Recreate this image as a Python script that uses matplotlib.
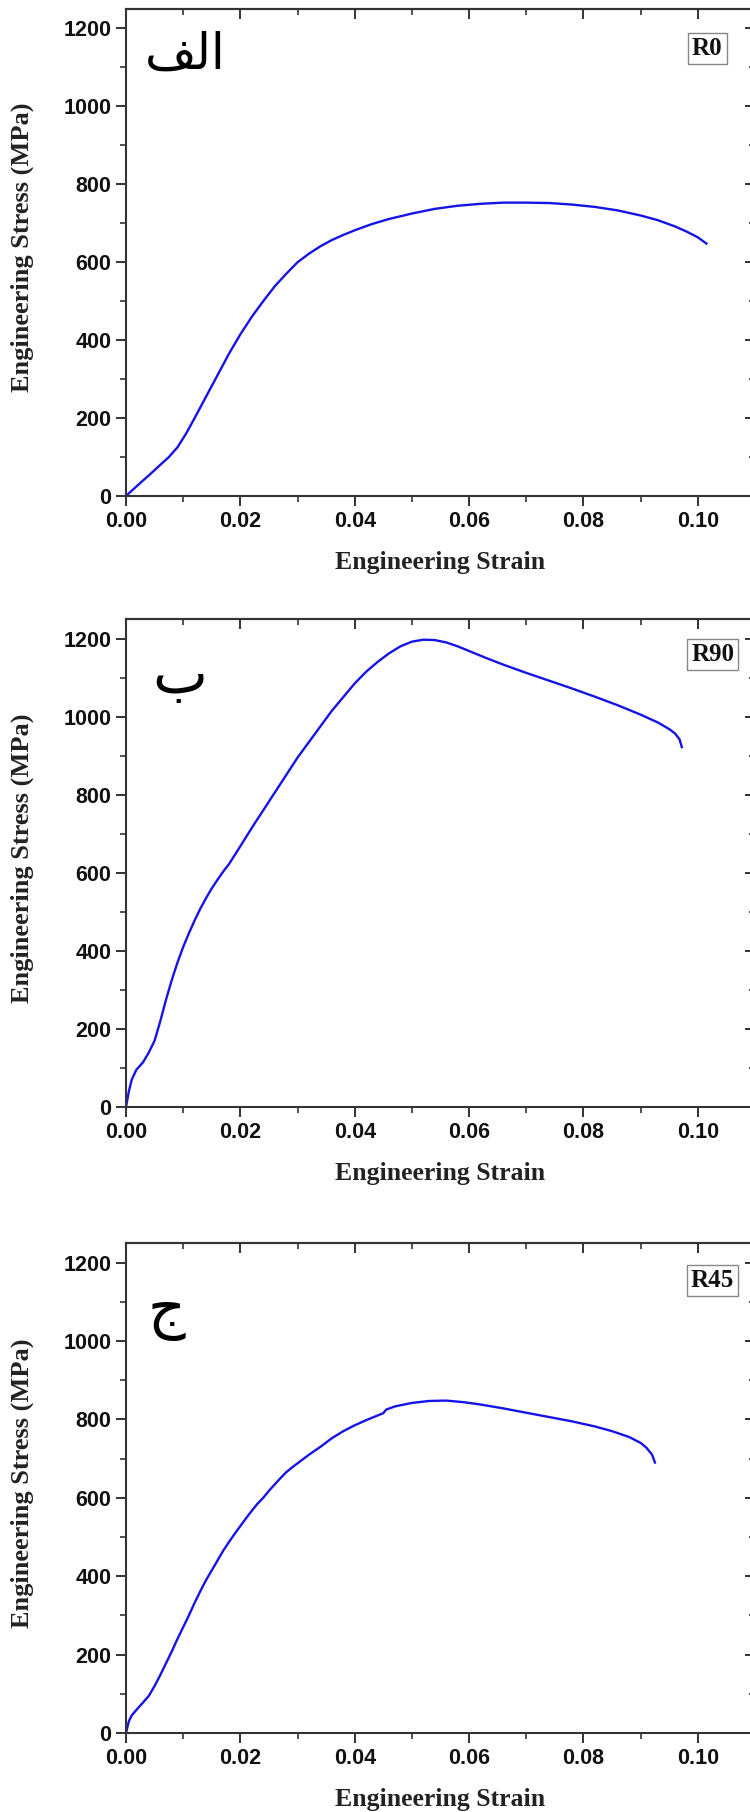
import matplotlib
matplotlib.use("Agg")
import matplotlib.pyplot as plt
from matplotlib.ticker import MultipleLocator

# strain / stress
r0_strain = [0.0, 0.002, 0.004, 0.006, 0.0075, 0.009, 0.0105, 0.012, 0.014, 0.016,
             0.018, 0.020, 0.022, 0.024, 0.026, 0.028, 0.030, 0.032, 0.034, 0.036,
             0.038, 0.040, 0.043, 0.046, 0.050, 0.054, 0.058, 0.062, 0.066, 0.070,
             0.074, 0.078, 0.082, 0.086, 0.090, 0.093, 0.096, 0.098, 0.100, 0.1015]
r0_stress = [0, 27, 53, 80, 100, 125, 160, 200, 255, 310,
             365, 415, 460, 500, 538, 570, 600, 622, 641, 657,
             670, 682, 698, 711, 725, 737, 745, 750, 753, 753,
             752, 748, 742, 733, 720, 708, 692, 679, 664, 648]

r90_strain = [0.0, 0.0005, 0.001, 0.0018, 0.003, 0.004, 0.005, 0.006, 0.007, 0.008,
              0.009, 0.010, 0.011, 0.012, 0.013, 0.014, 0.015, 0.016, 0.017, 0.018,
              0.019, 0.020, 0.022, 0.024, 0.026, 0.028, 0.030, 0.032, 0.034, 0.036,
              0.038, 0.040, 0.042, 0.044, 0.046, 0.048, 0.050, 0.052, 0.054, 0.056,
              0.058, 0.060, 0.063, 0.066, 0.070, 0.074, 0.078, 0.082, 0.086, 0.090,
              0.093, 0.095, 0.096, 0.0968, 0.0972]
r90_stress = [0, 40, 70, 95, 115, 140, 170, 220, 275, 325,
              370, 410, 445, 478, 508, 535, 560, 582, 603, 622,
              645, 668, 715, 760, 805, 850, 895, 935, 975, 1015,
              1050, 1085, 1115, 1140, 1162, 1180, 1192, 1197, 1196, 1190,
              1180, 1168, 1150, 1133, 1112, 1092, 1072, 1051, 1029, 1005,
              985, 968, 957, 942, 922]

r45_strain = [0.0, 0.0005, 0.001, 0.002, 0.003, 0.004, 0.005, 0.006, 0.007, 0.008,
              0.009, 0.010, 0.011, 0.012, 0.013, 0.014, 0.015, 0.016, 0.017, 0.018,
              0.019, 0.020, 0.021, 0.022, 0.023, 0.024, 0.025, 0.026, 0.027, 0.028,
              0.029, 0.030, 0.031, 0.032, 0.033, 0.034, 0.035, 0.036, 0.038, 0.040,
              0.042, 0.044, 0.045, 0.0455, 0.047, 0.050, 0.053, 0.056, 0.059, 0.062,
              0.066, 0.070, 0.074, 0.078, 0.082, 0.085, 0.088, 0.090, 0.091, 0.092,
              0.0925]
r45_stress = [0, 30, 45, 62, 78, 95, 120, 148, 178, 208,
              240, 270, 300, 332, 362, 390, 415, 440, 465, 487,
              508, 528, 548, 567, 585, 600, 618, 634, 650, 665,
              677, 688, 699, 710, 720, 730, 741, 752, 770, 785,
              798, 810, 816, 825, 833, 842, 847, 848, 844, 838,
              828, 817, 806, 795, 782, 770, 755, 740, 728, 710,
              690]

tags = ["R0", "R90", "R45"]
# panel letters الف / ب / ج, written as presentation forms in visual order
# because matplotlib does no Arabic shaping
letters = ["\uFED2\uFEDF\uFE8D", "\uFE8F", "\uFE9D"]
letter_size = [36, 42, 42]

series = [(r0_strain, r0_stress), (r90_strain, r90_stress), (r45_strain, r45_stress)]

W, H = 750, 1812
# axes boxes in pixels: (bottom spine y, top spine y)
boxes = [(496, 9), (1107, 619), (1733, 1243)]
letter_pos = [(0.094, 0.906), (0.085, 0.882), (0.064, 0.858)]
tag_pos = [(0.924, 0.918), (0.933, 0.928), (0.932, 0.924)]

spine_c = "#333333"
sans = ["Liberation Sans", "DejaVu Sans"]
serif = ["Liberation Serif", "DejaVu Serif"]

fig = plt.figure(figsize=(W / 100, H / 100), dpi=100)

for i, ((xs, ys), (yb, yt)) in enumerate(zip(series, boxes)):
    left, right = 126, 755
    ax = fig.add_axes([left / W, 1 - yb / H, (right - left) / W, (yb - yt) / H])
    ax.plot(xs, ys, color="#1414e6", lw=1.7, solid_joinstyle="round")
    ax.set_xlim(0, 0.11)
    ax.set_ylim(0, 1250)

    ax.xaxis.set_major_locator(MultipleLocator(0.02))
    ax.xaxis.set_minor_locator(MultipleLocator(0.01))
    ax.yaxis.set_major_locator(MultipleLocator(200))
    ax.yaxis.set_minor_locator(MultipleLocator(100))
    ax.xaxis.set_major_formatter(lambda v, p: f"{v:.2f}")

    for s in ax.spines.values():
        s.set_color(spine_c)
        s.set_linewidth(1.5)
    ax.tick_params(which="major", direction="out", length=7.5, width=1.4,
                   color=spine_c, labelsize=15.5, pad=3)
    ax.tick_params(which="minor", direction="out", length=4, width=1.2, color=spine_c)
    for lab in ax.get_xticklabels() + ax.get_yticklabels():
        lab.set_fontfamily(sans)
        lab.set_fontweight("bold")
        lab.set_color("#111111")

    # mirrored ticks on top / right point inward
    top = ax.secondary_xaxis("top")
    top.xaxis.set_major_locator(MultipleLocator(0.02))
    top.xaxis.set_minor_locator(MultipleLocator(0.01))
    top.tick_params(which="major", direction="in", length=7.5, width=1.4,
                    color=spine_c, labeltop=False)
    top.tick_params(which="minor", direction="in", length=4, width=1.2, color=spine_c)
    top.spines["top"].set_color(spine_c)
    top.spines["top"].set_linewidth(1.5)
    rgt = ax.secondary_yaxis("right")
    rgt.yaxis.set_major_locator(MultipleLocator(200))
    rgt.yaxis.set_minor_locator(MultipleLocator(100))
    rgt.tick_params(which="major", direction="in", length=7.5, width=1.4,
                    color=spine_c, labelright=False)
    rgt.tick_params(which="minor", direction="in", length=4, width=1.2, color=spine_c)

    ax.set_xlabel("Engineering Strain", fontfamily=serif, fontweight="bold",
                  fontsize=18.5, color="#222222")
    ax.set_ylabel("Engineering Stress (MPa)", fontfamily=serif, fontweight="bold",
                  fontsize=19, color="#222222")
    ax.xaxis.set_label_coords(0.5, -0.112)
    ax.yaxis.set_label_coords(-0.146, 0.51)

    lx, ly = letter_pos[i]
    ax.text(lx, ly, letters[i], transform=ax.transAxes, ha="center", va="center",
            fontsize=letter_size[i], fontfamily=["DejaVu Sans"], color="black")
    tx, ty = tag_pos[i]
    ax.text(tx, ty, tags[i], transform=ax.transAxes, ha="center", va="center",
            fontsize=18, fontfamily=serif, fontweight="bold", color="#111111",
            bbox=dict(boxstyle="square,pad=0.16", fc="white", ec="#888888", lw=1.0))

fig.savefig("out.png", dpi=100, facecolor="white")
